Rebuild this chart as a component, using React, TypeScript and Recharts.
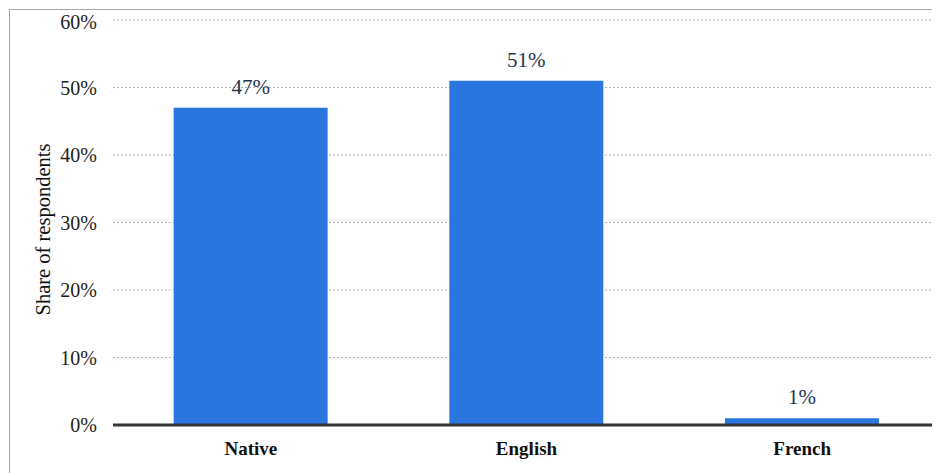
import { BarChart, Bar, XAxis, YAxis, CartesianGrid, LabelList } from "recharts";

const languages = ["Native", "English", "French"];
const shares = [47, 51, 1];
const yTicks = [0, 10, 20, 30, 40, 50, 60];

const data = languages.map((name, i) => ({ name, share: shares[i] }));

const serif = "'Liberation Serif', 'Times New Roman', serif";

export default function App() {
  return (
    <div
      style={{
        marginLeft: 1,
        marginTop: 1,
        width: 931,
        height: 464,
        borderLeft: "1px solid #a6a6a6",
        borderTop: "1px solid #a6a6a6",
        overflow: "hidden",
      }}
    >
      <BarChart
        width={930}
        height={463}
        data={data}
        margin={{ top: 10, right: 0, bottom: 18, left: 0 }}
        barCategoryGap="22%"
      >
        <CartesianGrid vertical={false} stroke="#b3b3b3" strokeDasharray="2 2" />
        <XAxis
          dataKey="name"
          height={30}
          tickLine={false}
          tickSize={0}
          tickMargin={17}
          axisLine={{ stroke: "#333333", strokeWidth: 3 }}
          tick={{ fill: "#111", fontSize: 19, fontWeight: 700, fontFamily: serif }}
        />
        <YAxis
          width={103}
          domain={[0, 60]}
          ticks={yTicks}
          tickFormatter={(v) => `${v}%`}
          axisLine={false}
          tickLine={false}
          tickSize={0}
          tickMargin={16}
          tick={{ fill: "#222", fontSize: 20, fontFamily: serif }}
          label={{
            content: (props: any) => {
              const vb = props.viewBox || {};
              const cy = (vb.y ?? 10) + (vb.height ?? 405) / 2 + 7;
              return (
                <text
                  x={33}
                  y={cy}
                  transform={`rotate(-90, 33, ${cy})`}
                  textAnchor="middle"
                  dominantBaseline="central"
                  fill="#111"
                  fontSize={20.5}
                  fontFamily={serif}
                >
                  Share of respondents
                </text>
              );
            },
          }}
        />
        <Bar dataKey="share" fill="#2a75de" isAnimationActive={false}>
          <LabelList
            dataKey="share"
            position="top"
            offset={14}
            formatter={(v: any) => `${v}%`}
            fill="#1f3550"
            fontSize={21}
            fontFamily={serif}
          />
        </Bar>
      </BarChart>
    </div>
  );
}
